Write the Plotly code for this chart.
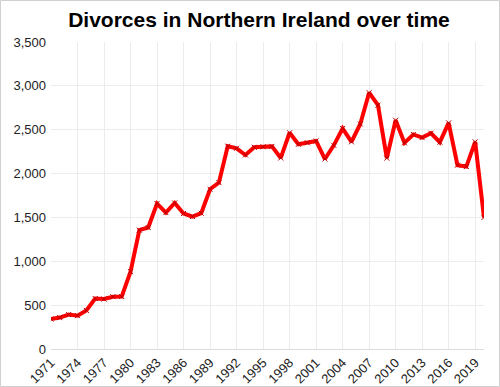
import plotly.graph_objects as go

years = list(range(1971, 2021))
divorces = [342, 358, 392, 380, 440, 575, 570, 596, 598, 882,
            1355, 1385, 1658, 1555, 1665, 1545, 1510, 1548, 1821, 1897,
            2312, 2288, 2212, 2300, 2305, 2310, 2178, 2465, 2334, 2352,
            2372, 2166, 2322, 2514, 2362, 2565, 2922, 2780, 2176, 2608,
            2350, 2446, 2410, 2460, 2358, 2578, 2096, 2080, 2362, 1500]

tick_years = list(range(1971, 2020, 3))

fig = go.Figure()
fig.add_trace(go.Scatter(
    x=years, y=divorces, mode="lines+markers",
    line=dict(color="#ff0000", width=4),
    marker=dict(symbol="x-thin", size=5, color="#b00000", line=dict(width=1, color="#b00000")),
    hoverinfo="x+y", showlegend=False,
))

fig.update_layout(
    width=500, height=387,
    margin=dict(l=51, r=16, t=42, b=38),
    paper_bgcolor="white", plot_bgcolor="white",
    font=dict(family="Liberation Sans, Arial, sans-serif", color="#222"),
    title=dict(text="<b>Divorces in Northern Ireland over time</b>", x=0.518, xref="container",
               xanchor="center", y=0.968, yref="container", yanchor="top",
               font=dict(size=21, color="#000")),
    xaxis=dict(range=[1971, 2020], tickmode="array", tickvals=tick_years,
               ticktext=[str(y) for y in tick_years], tickangle=-45,
               showgrid=True, gridcolor="#ececec", gridwidth=1,
               showline=True, linecolor="#dcdcdc", linewidth=1, automargin=False,
               ticks="", tickfont=dict(size=13, color="#222"), zeroline=False),
    yaxis=dict(range=[0, 3500], dtick=500, tickformat=",", automargin=False,
               showgrid=True, gridcolor="#ececec", gridwidth=1,
               zeroline=False, showline=False, ticks="",
               tickfont=dict(size=13, color="#222"), ticklabelstandoff=4),
    shapes=[dict(type="rect", xref="paper", yref="paper",
                 x0=-51/433 + 0.5/433, x1=1 + 16/433 - 0.5/433,
                 y0=-38/307 + 0.5/307, y1=1 + 42/307 - 0.5/307,
                 line=dict(color="#d0d0d0", width=1), layer="below")],
)

fig.write_html("out.html", config={"displayModeBar": False},
               post_script="document.body.style.margin='0';")
